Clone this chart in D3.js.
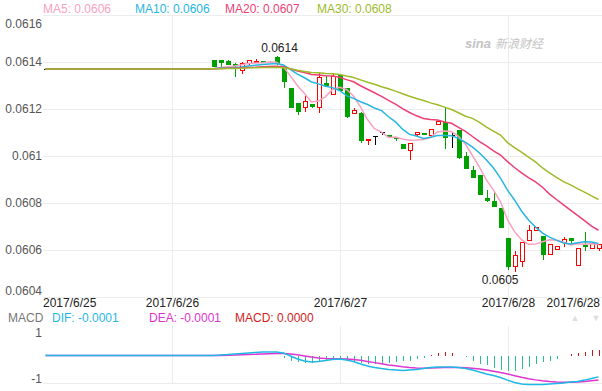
<!DOCTYPE html>
<html>
<head>
<meta charset="utf-8">
<script src="https://cdn.jsdelivr.net/npm/d3@7/dist/d3.min.js"></script>
<style>
    body { margin: 0; background: #fff; }
    svg { display: block; font-family: Arial, "Liberation Sans", sans-serif; }
</style>
</head>
<body>
<div id="container"></div>
<script>
// hourly candles, 2017/6/25 06:00 .. 2017/6/28 13:00
const open = [
    0.06137, 0.06137, 0.06137, 0.06137, 0.06137, 0.06137, 0.06137, 0.06137, 0.06137, 0.06137, 0.06137, 0.06137,
    0.06137, 0.06137, 0.06137, 0.06137, 0.06137, 0.06137, 0.06137, 0.06137, 0.06137, 0.06137, 0.06137, 0.06137,
    0.061409, 0.061409, 0.061404, 0.061391, 0.061362, 0.061391, 0.061396, 0.061404, 0.0614, 0.061421,
    0.061379, 0.061289, 0.061226, 0.061204, 0.061221, 0.061204, 0.061311, 0.06126, 0.061345, 0.061289,
    0.061179, 0.061183, 0.061064, 0.061081, 0.061098, 0.061089, 0.061077, 0.061051, 0.061021, 0.061089,
    0.061098, 0.061085, 0.061132, 0.061145, 0.061089, 0.061111, 0.061, 0.06094, 0.060919, 0.060821,
    0.060809, 0.060779, 0.060651, 0.060528, 0.060549, 0.060638, 0.060681, 0.06066, 0.060579, 0.0606,
    0.06063, 0.060651, 0.060532, 0.060621, 0.060604, 0.060604
]
const high = [
    0.06137, 0.06137, 0.06137, 0.06137, 0.06137, 0.06137, 0.06137, 0.06137, 0.06137, 0.06137, 0.06137, 0.06137,
    0.06137, 0.06137, 0.06137, 0.06137, 0.06137, 0.06137, 0.06137, 0.06137, 0.06137, 0.06137, 0.06137, 0.06137,
    0.061409, 0.061409, 0.061409, 0.061396, 0.0614, 0.061409, 0.061413, 0.061404, 0.061404, 0.061426,
    0.061383, 0.061289, 0.061226, 0.061255, 0.061221, 0.061353, 0.06134, 0.061353, 0.061345, 0.061289,
    0.061204, 0.061187, 0.061072, 0.061081, 0.061098, 0.061089, 0.061077, 0.061051, 0.061055, 0.061102,
    0.061098, 0.061115, 0.061149, 0.061209, 0.061102, 0.061111, 0.061017, 0.060957, 0.060919, 0.060855,
    0.060851, 0.060779, 0.060651, 0.060596, 0.060634, 0.060706, 0.060698, 0.06066, 0.060626, 0.060617,
    0.060655, 0.060651, 0.060609, 0.060677, 0.06063, 0.060626
]
const low = [
    0.06137, 0.06137, 0.06137, 0.06137, 0.06137, 0.06137, 0.06137, 0.06137, 0.06137, 0.06137, 0.06137, 0.06137,
    0.06137, 0.06137, 0.06137, 0.06137, 0.06137, 0.06137, 0.06137, 0.06137, 0.06137, 0.06137, 0.06137, 0.06137,
    0.061379, 0.061379, 0.061387, 0.061336, 0.061349, 0.061387, 0.061396, 0.061396, 0.061396, 0.061387,
    0.061289, 0.061204, 0.061174, 0.061187, 0.061204, 0.061183, 0.061298, 0.06126, 0.061277, 0.061162,
    0.061179, 0.061055, 0.061047, 0.061047, 0.061089, 0.061081, 0.061064, 0.06103, 0.060983, 0.061085,
    0.061089, 0.061077, 0.061132, 0.06103, 0.061034, 0.060987, 0.060945, 0.060906, 0.060834, 0.060804,
    0.060783, 0.060694, 0.060515, 0.060506, 0.060528, 0.060638, 0.060681, 0.060558, 0.060579, 0.0606,
    0.060613, 0.060621, 0.060532, 0.060596, 0.060604, 0.060596
]
const close = [
    0.06137, 0.06137, 0.06137, 0.06137, 0.06137, 0.06137, 0.06137, 0.06137, 0.06137, 0.06137, 0.06137, 0.06137,
    0.06137, 0.06137, 0.06137, 0.06137, 0.06137, 0.06137, 0.06137, 0.06137, 0.06137, 0.06137, 0.06137, 0.06137,
    0.061379, 0.061396, 0.061387, 0.061383, 0.061396, 0.061409, 0.061404, 0.061396, 0.061396, 0.061391,
    0.061315, 0.061204, 0.061187, 0.061234, 0.061209, 0.061336, 0.061298, 0.06134, 0.061277, 0.061166,
    0.061196, 0.061064, 0.061072, 0.061081, 0.061098, 0.061081, 0.061072, 0.06103, 0.061055, 0.061102,
    0.061089, 0.061115, 0.061149, 0.061077, 0.061089, 0.060991, 0.060945, 0.060906, 0.060834, 0.060809,
    0.060783, 0.060694, 0.060528, 0.060579, 0.060634, 0.060685, 0.060698, 0.060579, 0.060626, 0.060617,
    0.060647, 0.060638, 0.060609, 0.060613, 0.06063, 0.060626
]

const ma5 = [
    0.06137, 0.06137, 0.06137, 0.06137, 0.06137, 0.06137, 0.06137, 0.06137, 0.06137, 0.06137, 0.06137, 0.06137,
    0.06137, 0.06137, 0.06137, 0.06137, 0.06137, 0.06137, 0.06137, 0.06137, 0.06137, 0.06137, 0.06137, 0.06137,
    0.061372, 0.061377, 0.06138, 0.061383, 0.061388, 0.061394, 0.061396, 0.061397, 0.0614, 0.061399,
    0.06138, 0.06134, 0.061299, 0.061266, 0.06123, 0.061234, 0.061253, 0.061283, 0.061292, 0.061283,
    0.061255, 0.061209, 0.061155, 0.061116, 0.061102, 0.061079, 0.061081, 0.061072, 0.061067, 0.061068,
    0.06107, 0.061078, 0.061102, 0.061106, 0.061104, 0.061084, 0.06105, 0.061002, 0.060953, 0.060897,
    0.060855, 0.060805, 0.060729, 0.060678, 0.060644, 0.060624, 0.060625, 0.060635, 0.060644, 0.060641,
    0.060633, 0.060621, 0.060627, 0.060625, 0.060627, 0.060623
]
const ma10 = [
    0.06137, 0.06137, 0.06137, 0.06137, 0.06137, 0.06137, 0.06137, 0.06137, 0.06137, 0.06137, 0.06137, 0.06137,
    0.06137, 0.06137, 0.06137, 0.06137, 0.06137, 0.06137, 0.06137, 0.06137, 0.06137, 0.06137, 0.06137, 0.06137,
    0.061371, 0.061374, 0.061375, 0.061377, 0.061379, 0.061383, 0.061386, 0.061389, 0.061392, 0.061394,
    0.061387, 0.061368, 0.061348, 0.061333, 0.061315, 0.061307, 0.061297, 0.061291, 0.061279, 0.061257,
    0.061245, 0.061231, 0.061219, 0.061204, 0.061193, 0.061167, 0.061145, 0.061114, 0.061092, 0.061085,
    0.061075, 0.06108, 0.061087, 0.061087, 0.061086, 0.061075, 0.061058, 0.061038, 0.061013, 0.060983,
    0.060949, 0.060906, 0.060855, 0.060813, 0.060766, 0.060728, 0.060698, 0.060672, 0.060655, 0.060642,
    0.06063, 0.060626, 0.060631, 0.060635, 0.060634, 0.060628
]
const ma20 = [
    0.06137, 0.06137, 0.06137, 0.06137, 0.06137, 0.06137, 0.06137, 0.06137, 0.06137, 0.06137, 0.06137, 0.06137,
    0.06137, 0.06137, 0.06137, 0.06137, 0.06137, 0.06137, 0.06137, 0.06137, 0.06137, 0.06137, 0.06137, 0.06137,
    0.061371, 0.061372, 0.061373, 0.061373, 0.061375, 0.061377, 0.061378, 0.06138, 0.061381, 0.061382,
    0.061379, 0.061371, 0.061362, 0.061355, 0.061347, 0.061345, 0.061342, 0.06134, 0.061335, 0.061325,
    0.061316, 0.061299, 0.061284, 0.061269, 0.061254, 0.061237, 0.061221, 0.061202, 0.061185, 0.061171,
    0.06116, 0.061155, 0.061153, 0.061145, 0.061139, 0.061122, 0.061105, 0.061083, 0.061061, 0.061043,
    0.061022, 0.061004, 0.060976, 0.060951, 0.060928, 0.060908, 0.06089, 0.060867, 0.060838, 0.060815,
    0.060792, 0.06077, 0.060747, 0.060725, 0.060702, 0.060684
]
const ma30 = [
    0.06137, 0.06137, 0.06137, 0.06137, 0.06137, 0.06137, 0.06137, 0.06137, 0.06137, 0.06137, 0.06137, 0.06137,
    0.06137, 0.06137, 0.06137, 0.06137, 0.06137, 0.06137, 0.06137, 0.06137, 0.06137, 0.06137, 0.06137, 0.06137,
    0.061371, 0.061371, 0.061372, 0.061372, 0.061373, 0.061375, 0.061376, 0.061377, 0.061377, 0.061378,
    0.061376, 0.061371, 0.061365, 0.06136, 0.061355, 0.061354, 0.061351, 0.06135, 0.061347, 0.06134,
    0.061334, 0.061324, 0.061314, 0.061305, 0.061295, 0.061286, 0.061276, 0.061265, 0.061254, 0.061245,
    0.061236, 0.061226, 0.061218, 0.061208, 0.061198, 0.061184, 0.061169, 0.06116, 0.061143, 0.061123,
    0.061106, 0.061089, 0.061057, 0.061036, 0.061016, 0.060995, 0.060975, 0.060949, 0.060928, 0.060909,
    0.060891, 0.060877, 0.060861, 0.060846, 0.06083, 0.060815
]

// MACD panel values, in units of 0.0001 (what the axis shows)
const dif = [
    0, 0, 0, 0, 0, 0, 0, 0, 0, 0, 0, 0, 0, 0, 0, 0, 0, 0, 0, 0, 0, 0, 0, 0,
    0, 0.02, 0.04, 0.07, 0.09, 0.11, 0.13, 0.15, 0.15, 0.15,
    0.11, -0.02, -0.15, -0.24, -0.28, -0.26, -0.22, -0.17, -0.15, -0.2,
    -0.26, -0.37, -0.46, -0.52, -0.57, -0.61, -0.63, -0.65, -0.63, -0.61,
    -0.57, -0.52, -0.5, -0.5, -0.5, -0.52, -0.57, -0.63, -0.72, -0.8,
    -0.87, -0.96, -1.07, -1.17, -1.24, -1.26, -1.26, -1.26, -1.24, -1.22,
    -1.2, -1.15, -1.13, -1.07, -1.0, -0.93
]
const dea = [
    0, 0, 0, 0, 0, 0, 0, 0, 0, 0, 0, 0, 0, 0, 0, 0, 0, 0, 0, 0, 0, 0, 0, 0,
    0, 0, 0.01, 0.02, 0.03, 0.04, 0.05, 0.07, 0.08, 0.09,
    0.09, 0.07, 0.03, -0.02, -0.07, -0.11, -0.13, -0.14, -0.14, -0.15,
    -0.17, -0.21, -0.26, -0.31, -0.36, -0.41, -0.45, -0.49, -0.52, -0.54,
    -0.55, -0.54, -0.53, -0.52, -0.52, -0.52, -0.53, -0.55, -0.59, -0.63,
    -0.68, -0.74, -0.8, -0.88, -0.95, -1.01, -1.06, -1.1, -1.13, -1.15,
    -1.16, -1.16, -1.15, -1.13, -1.1, -1.07
]
const macd = [
    0, 0, 0, 0, 0, 0, 0, 0, 0, 0, 0, 0, 0, 0, 0, 0, 0, 0, 0, 0, 0, 0, 0, 0,
    0, 0, 0, 0, 0, 0, 0, 0, 0, 0,
    -0.1, -0.22, -0.29, -0.33, -0.32, -0.25, -0.19, -0.14, -0.14, -0.22,
    -0.27, -0.32, -0.35, -0.36, -0.36, -0.33, -0.29, -0.26, -0.22, -0.16,
    -0.09, 0.02, 0.12, 0.14, 0.12, -0.02, -0.07, -0.22, -0.36, -0.43,
    -0.53, -0.62, -0.68, -0.68, -0.58, -0.48, -0.36, -0.29, -0.22, -0.14,
    -0.03, 0.07, 0.12, 0.17, 0.22, 0.26
]

const priceTicks = [0.0604, 0.0606, 0.0608, 0.061, 0.0612, 0.0614, 0.0616]
const macdTicks = [1, -1]
const dateTickIndex = [0, 18, 42, 66, 79]
const dateTickLabels = ['2017/6/25', '2017/6/26', '2017/6/27', '2017/6/28', '2017/6/28']
const dayGridIndex = [18, 42, 66]

const maSeries = [
    { name: 'MA5', values: ma5, color: '#f8a1c0' },
    { name: 'MA10', values: ma10, color: '#26b6e0' },
    { name: 'MA20', values: ma20, color: '#ee3f73' },
    { name: 'MA30', values: ma30, color: '#9dbb2a' }
]
const legendX = [43, 135, 225, 317]

const upColor = '#ff0000'
const downColor = '#00a000'
const gridColor = '#ececec'

// begin chart //

const width = 602
const height = 391

const svg = d3
    .select('#container')
    .append('svg')
    .attr('width', width)
    .attr('height', height)

const indexes = close.map((d, i) => i)

const x = d3
    .scaleBand()
    .domain(indexes)
    .range([42, 602])
    .paddingInner(0.28)
    .paddingOuter(0.14)

const cx = (i) => Math.round(x(i) + x.bandwidth() / 2) + 0.5

const y = d3.scaleLinear().domain([0.0604, 0.0616]).range([297, 15])
const ym = d3.scaleLinear().domain([-1, 1]).range([378.5, 332.5])

const fmt4 = (v) => v.toFixed(4)

// grid
const grid = svg.append('g').attr('stroke', gridColor).attr('shape-rendering', 'crispEdges')

grid.selectAll('.hgrid')
    .data(priceTicks)
    .join('line')
    .attr('x1', 43)
    .attr('x2', width)
    .attr('y1', (d) => Math.round(y(d)) + 0.5)
    .attr('y2', (d) => Math.round(y(d)) + 0.5)

grid.selectAll('.vgrid')
    .data(dayGridIndex)
    .join('line')
    .attr('x1', (d) => cx(d))
    .attr('x2', (d) => cx(d))
    .attr('y1', 15)
    .attr('y2', 297)

grid.append('g')
    .selectAll('line')
    .data(dayGridIndex)
    .join('line')
    .attr('x1', (d) => cx(d))
    .attr('x2', (d) => cx(d))
    .attr('y1', 326)
    .attr('y2', 384)

grid.append('line')
    .attr('x1', 43)
    .attr('x2', width)
    .attr('y1', 383.5)
    .attr('y2', 383.5)

// price axis labels
svg.append('g')
    .selectAll('text')
    .data(priceTicks)
    .join('text')
    .attr('x', 42)
    .attr('y', (d) => Math.min(291, Math.max(24, y(d))))
    .attr('dy', '0.35em')
    .attr('text-anchor', 'end')
    .attr('font-size', 12)
    .attr('fill', '#555')
    .text((d) => String(+d.toFixed(4)))

// watermark
const mark = svg.append('g').attr('fill', '#c4c4c4')
mark.append('text')
    .attr('x', 465)
    .attr('y', 48)
    .attr('font-size', 13)
    .attr('font-style', 'italic')
    .attr('font-weight', 'bold')
    .text('sina')
mark.append('text')
    .attr('x', 495)
    .attr('y', 48)
    .attr('font-size', 12)
    .attr('font-style', 'italic')
    .attr('font-family', '"Noto Sans CJK SC", sans-serif')
    .text('新浪财经')

// candles
const candles = svg.append('g').attr('shape-rendering', 'crispEdges')

const candleColor = (i) =>
    close[i] > open[i] ? upColor : close[i] < open[i] ? downColor : '#000'

candles.selectAll('.wick')
    .data(indexes)
    .join('line')
    .attr('x1', (i) => cx(i))
    .attr('x2', (i) => cx(i))
    .attr('y1', (i) => y(high[i]))
    .attr('y2', (i) => y(low[i]))
    .attr('stroke', candleColor)

candles.selectAll('.body')
    .data(indexes)
    .join('rect')
    .each(function (i) {
        const el = d3.select(this)
        const left = cx(i) - 2.5
        const top = y(Math.max(open[i], close[i]))
        const bottom = y(Math.min(open[i], close[i]))
        if (close[i] > open[i]) {
            el.attr('x', left + 0.5)
                .attr('y', top + 0.5)
                .attr('width', 4)
                .attr('height', Math.max(bottom - top - 1, 0.5))
                .attr('fill', '#fff')
                .attr('stroke', upColor)
        } else if (close[i] < open[i]) {
            el.attr('x', left)
                .attr('y', top)
                .attr('width', 5)
                .attr('height', Math.max(bottom - top, 1))
                .attr('fill', downColor)
        } else {
            el.attr('x', left)
                .attr('y', top - 0.5)
                .attr('width', 5)
                .attr('height', 1)
                .attr('fill', '#000')
        }
    })

// moving averages
const maLine = (values) =>
    d3.line()
        .x((d, i) => x(i) + x.bandwidth() / 2)
        .y((d) => y(d))(values)

svg.append('g')
    .selectAll('path')
    .data(maSeries)
    .join('path')
    .attr('d', (d) => maLine(d.values))
    .attr('fill', 'none')
    .attr('stroke', (d) => d.color)
    .attr('stroke-width', 1.5)

// high / low markers
const hiIndex = d3.maxIndex(high)
const loIndex = d3.minIndex(low)

svg.append('text')
    .attr('x', cx(hiIndex) + 2)
    .attr('y', y(high[hiIndex]) - 4)
    .attr('text-anchor', 'middle')
    .attr('font-size', 12)
    .attr('fill', '#222')
    .text(fmt4(high[hiIndex]))

svg.append('text')
    .attr('x', cx(loIndex) + 3)
    .attr('y', y(low[loIndex]) + 12)
    .attr('text-anchor', 'end')
    .attr('font-size', 12)
    .attr('fill', '#222')
    .text(fmt4(low[loIndex]))

// MA legend
svg.append('g')
    .selectAll('text')
    .data(maSeries)
    .join('text')
    .attr('x', (d, i) => legendX[i])
    .attr('y', 13)
    .attr('font-size', 12)
    .attr('fill', (d) => d.color)
    .text((d) => d.name + ': ' + fmt4(d.values[d.values.length - 1]))

// date labels
svg.append('g')
    .selectAll('text')
    .data(dateTickIndex)
    .join('text')
    .attr('x', (d, k) => (k === 0 ? 43 : k === dateTickIndex.length - 1 ? 600 : cx(d)))
    .attr('y', 307)
    .attr('text-anchor', (d, k) =>
        k === 0 ? 'start' : k === dateTickIndex.length - 1 ? 'end' : 'middle'
    )
    .attr('font-size', 12)
    .attr('fill', '#222')
    .text((d, k) => dateTickLabels[k])

// MACD legend
const macdLegend = [
    { text: 'MACD', color: '#777', x: 8 },
    { text: 'DIF: ' + fmt4(dif[dif.length - 1] / 10000), color: '#1fb8e6', x: 52 },
    { text: 'DEA: ' + fmt4(dea[dea.length - 1] / 10000), color: '#dd35cf', x: 149 },
    { text: 'MACD: ' + fmt4(Math.abs(macd[macd.length - 1]) < 0.5 ? 0 : macd[macd.length - 1] / 10000), color: '#d41c1c', x: 235 }
]

svg.append('g')
    .selectAll('text')
    .data(macdLegend)
    .join('text')
    .attr('x', (d) => d.x)
    .attr('y', 322)
    .attr('font-size', 12)
    .attr('fill', (d) => d.color)
    .text((d) => d.text)

svg.append('text')
    .attr('x', 575)
    .attr('y', 321)
    .attr('text-anchor', 'middle')
    .attr('font-size', 9)
    .attr('fill', '#ddd')
    .text('▲')
svg.append('text')
    .attr('x', 596)
    .attr('y', 321)
    .attr('text-anchor', 'middle')
    .attr('font-size', 9)
    .attr('fill', '#ddd')
    .text('▼')

// MACD axis labels
svg.append('g')
    .selectAll('text')
    .data(macdTicks)
    .join('text')
    .attr('x', 42)
    .attr('y', (d) => ym(d))
    .attr('dy', '0.35em')
    .attr('text-anchor', 'end')
    .attr('font-size', 12)
    .attr('fill', '#555')
    .text((d) => d)

// MACD histogram
svg.append('g')
    .attr('shape-rendering', 'crispEdges')
    .selectAll('line')
    .data(indexes.filter((i) => macd[i] !== 0))
    .join('line')
    .attr('x1', (i) => cx(i))
    .attr('x2', (i) => cx(i))
    .attr('y1', ym(0))
    .attr('y2', (i) => ym(macd[i]))
    .attr('stroke', (i) => (macd[i] > 0 ? '#c81a1a' : '#2bbf8a'))

const macdLine = (values) =>
    d3.line()
        .x((d, i) => x(i) + x.bandwidth() / 2)
        .y((d) => ym(d))(values)

svg.append('path')
    .attr('d', macdLine(dea))
    .attr('fill', 'none')
    .attr('stroke', '#dd35cf')
    .attr('stroke-width', 1.5)

svg.append('path')
    .attr('d', macdLine(dif))
    .attr('fill', 'none')
    .attr('stroke', '#1fb8e6')
    .attr('stroke-width', 1.5)

// end chart //
</script>
</body>
</html>
